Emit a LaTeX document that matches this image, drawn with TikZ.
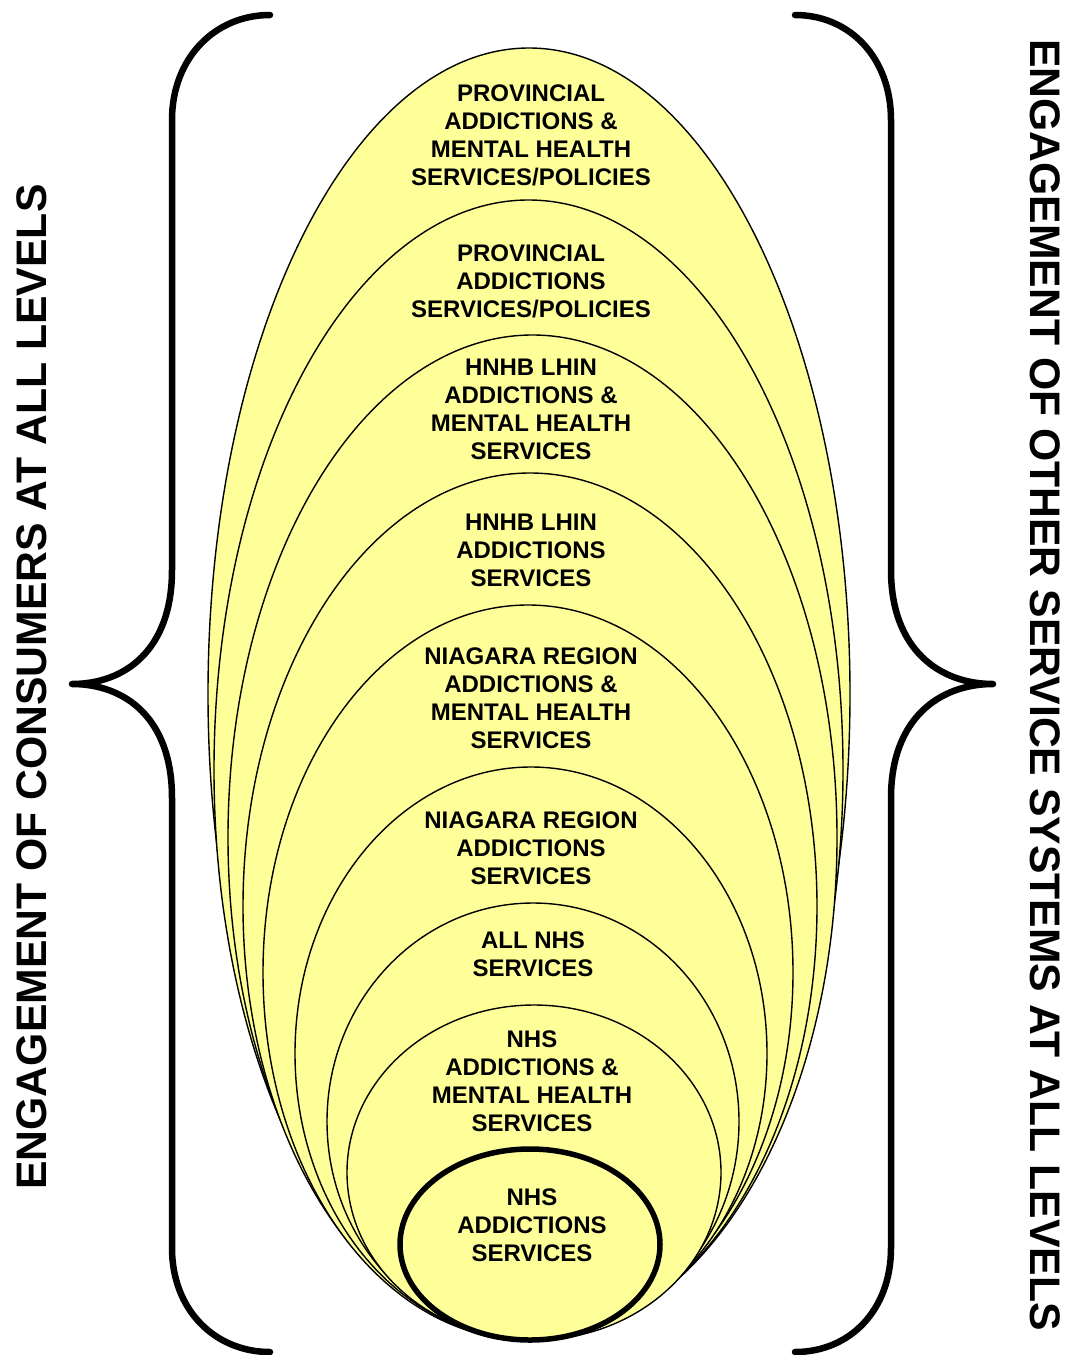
\documentclass[tikz,border=0pt]{standalone}
\usepackage{fontspec}
\setmainfont{Liberation Sans}
\begin{document}
\begin{tikzpicture}[x=1pt,y=-1pt,
  ring/.style={draw=black,line width=1.4pt,fill=yfill},
  corering/.style={draw=black,line width=5.5pt,fill=yfill},
  lbl/.style={align=center,font=\fontsize{24}{28}\selectfont\bfseries,inner sep=0pt},
  side/.style={font=\fontsize{42.7}{44}\selectfont\bfseries,inner sep=0pt},
  brace/.style={draw=black,line width=6.5pt,line cap=round,line join=round}]
\definecolor{yfill}{RGB}{255,255,153}
\useasboundingbox (0,0) rectangle (1068,1355);
% nested ellipses (outer first)
\draw[ring] (529,694) ellipse [x radius=321, y radius=646];
\draw[ring] (528.5,770) ellipse [x radius=314.5, y radius=570];
\draw[ring] (532.5,837.5) ellipse [x radius=304.5, y radius=502.5];
\draw[ring] (530,906.5) ellipse [x radius=287, y radius=433.5];
\draw[ring] (528,972.5) ellipse [x radius=265, y radius=367.5];
\draw[ring] (531,1053.5) ellipse [x radius=236, y radius=286.5];
\draw[ring] (533,1121.5) ellipse [x radius=206, y radius=218.5];
\draw[ring] (534,1172.5) ellipse [x radius=187, y radius=167.5];
\draw[corering] (530,1244.5) ellipse [x radius=130, y radius=95.5];
% labels
\node[lbl] (t1) at (531,135) {PROVINCIAL\\ADDICTIONS \&\\MENTAL HEALTH\\SERVICES/POLICIES};
\node[lbl] (t2) at (531,281) {PROVINCIAL\\ADDICTIONS\\SERVICES/POLICIES};
\node[lbl] (t3) at (531,409) {HNHB LHIN\\ADDICTIONS \&\\MENTAL HEALTH\\SERVICES};
\node[lbl] (t4) at (531,550) {HNHB LHIN\\ADDICTIONS\\SERVICES};
\node[lbl] (t5) at (531,698) {NIAGARA REGION\\ADDICTIONS \&\\MENTAL HEALTH\\SERVICES};
\node[lbl] (t6) at (531,848) {NIAGARA REGION\\ADDICTIONS\\SERVICES};
\node[lbl] (t7) at (533,954) {ALL NHS\\SERVICES};
\node[lbl] (t8) at (532,1081) {NHS\\ADDICTIONS \&\\MENTAL HEALTH\\SERVICES};
\node[lbl] (t9) at (532,1225) {NHS\\ADDICTIONS\\SERVICES};
% side texts
\node[side,rotate=90] (lside) at (32,687) {ENGAGEMENT OF CONSUMERS AT ALL LEVELS};
\node[side,rotate=-90] (rside) at (1045,685) {ENGAGEMENT OF OTHER SERVICE SYSTEMS AT ALL LEVELS};
% braces
\coordinate (lb1) at (270,15);
\coordinate (lbtip) at (72,684);
\coordinate (lb2) at (270,1352);
\draw[brace] (lb1) .. controls (215,15) and (172,58) .. (172,120)
  -- (172,570) .. controls (172,650) and (125,684) .. (lbtip)
  .. controls (125,684) and (172,718) .. (172,798)
  -- (172,1248) .. controls (172,1310) and (215,1352) .. (lb2);
\coordinate (rb1) at (795,15);
\coordinate (rbtip) at (993,684);
\coordinate (rb2) at (795,1352);
\draw[brace] (rb1) .. controls (850,15) and (891,58) .. (891,120)
  -- (891,570) .. controls (891,650) and (940,684) .. (rbtip)
  .. controls (940,684) and (891,718) .. (891,798)
  -- (891,1248) .. controls (891,1310) and (850,1352) .. (rb2);
\end{tikzpicture}
\end{document}
